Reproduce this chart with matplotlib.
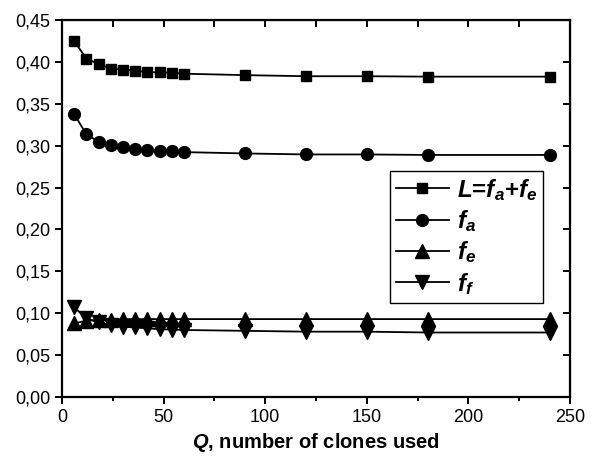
import matplotlib
matplotlib.use("Agg")
import matplotlib.pyplot as plt
from matplotlib.ticker import FuncFormatter, MultipleLocator

plt.rcParams["font.family"] = ["Liberation Sans", "DejaVu Sans"]
plt.rcParams["mathtext.fontset"] = "custom"
plt.rcParams["mathtext.rm"] = "Liberation Sans:bold"
plt.rcParams["mathtext.it"] = "Liberation Sans:bold:italic"
plt.rcParams["mathtext.bf"] = "Liberation Sans:bold"

# number of clones used
q = [6, 12, 18, 24, 30, 36, 42, 48, 54, 60, 90, 120, 150, 180, 240]
L_vals = [0.425, 0.404, 0.3975, 0.392, 0.391, 0.3895, 0.388, 0.3875, 0.387, 0.386,
          0.3843, 0.383, 0.383, 0.3825, 0.3825]
fa_vals = [0.3378, 0.3135, 0.3048, 0.3008, 0.298, 0.296, 0.2948, 0.294, 0.2935, 0.2924,
           0.2908, 0.2896, 0.2896, 0.289, 0.289]
fe_vals = [0.088, 0.091, 0.092, 0.092, 0.093, 0.093, 0.093, 0.093, 0.093, 0.093,
           0.093, 0.093, 0.093, 0.093, 0.093]
ff_vals = [0.107, 0.094, 0.089, 0.086, 0.084, 0.083, 0.082, 0.081, 0.0805, 0.080,
           0.079, 0.078, 0.078, 0.077, 0.077]

fig = plt.figure(figsize=(5.98, 4.57), dpi=100)
ax = fig.add_axes([0.1037, 0.1313, 0.8495, 0.8247])

ax.plot(q, L_vals, "-s", color="black", lw=1.3, ms=7.5, label=r"$L$=$f_a$+$f_e$")
ax.plot(q, fa_vals, "-o", color="black", lw=1.3, ms=8.5, label=r"$f_a$")
ax.plot(q, fe_vals, "-^", color="black", lw=1.3, ms=9.5, label=r"$f_e$")
ax.plot(q, ff_vals, "-v", color="black", lw=1.3, ms=9.5, label=r"$f_f$")

ax.set_xlim(0, 250)
ax.set_ylim(0, 0.45)
ax.xaxis.set_major_locator(MultipleLocator(50))
ax.xaxis.set_minor_locator(MultipleLocator(25))
ax.yaxis.set_major_locator(MultipleLocator(0.05))
ax.yaxis.set_major_formatter(FuncFormatter(lambda v, p: f"{v:.2f}".replace(".", ",")))

for s in ax.spines.values():
    s.set_linewidth(1.6)
ax.tick_params(which="both", direction="out", width=1.4, labelsize=13)
ax.tick_params(which="major", length=5)
ax.tick_params(which="minor", length=3)

# inward ticks on top and right
top = ax.secondary_xaxis("top")
top.xaxis.set_major_locator(MultipleLocator(25))
top.tick_params(direction="in", length=5, width=1.4, labeltop=False)
right = ax.secondary_yaxis("right")
right.yaxis.set_major_locator(MultipleLocator(0.05))
right.tick_params(direction="in", length=5, width=1.4, labelright=False)

ax.set_xlabel(r"$Q$, number of clones used", fontsize=14.5, fontweight="bold", labelpad=4)

leg = ax.legend(loc="upper left", bbox_to_anchor=(0.645, 0.60), fancybox=False,
                edgecolor="black", prop={"size": 17.5, "weight": "bold"},
                handlelength=2.2, borderpad=0.25, labelspacing=0.22,
                handletextpad=0.3, framealpha=1, borderaxespad=0)
leg.get_frame().set_linewidth(1.0)

fig.savefig("out.png", dpi=100)
